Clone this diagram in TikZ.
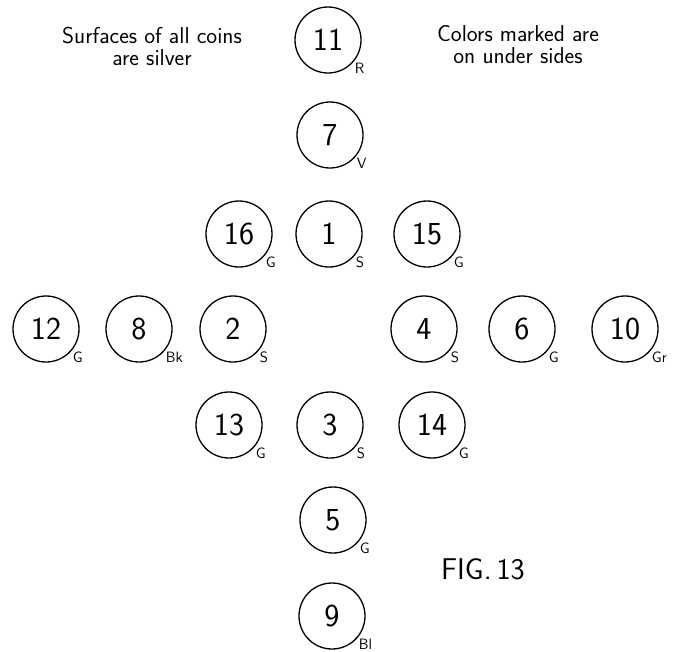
\documentclass[tikz,border=0pt]{standalone}
\usepackage{tikz}
\usetikzlibrary{positioning}
\tikzset{
  coin/.style={draw,circle,line width=1.3pt,minimum size=66pt,inner sep=0pt,font=\sffamily\fontsize{32}{32}\selectfont},
  tag/.style={font=\sffamily\fontsize{15}{15}\selectfont,inner sep=1pt},
  note/.style={font=\sffamily\fontsize{23}{22}\selectfont,align=center,inner sep=0pt}
}

\begin{document}
\begin{tikzpicture}[x=1pt,y=-1pt]
  \useasboundingbox (0,0) rectangle (679,651);
  % notes at the top
  \node[note] (surf) at (152,46) {Surfaces of all coins\\ are silver};
  \node[note] (under) at (518,45) {Colors marked are\\ on under sides};
  % vertical column
  \node[coin,label={[tag]-40:R}] (c11) at (328,40) {11};
  \node[coin,label={[tag]-40:V}] (c7) at (330,135) {7};
  \node[coin,label={[tag]-40:S}] (c1) at (329,234) {1};
  \node[coin,label={[tag]-40:S}] (c3) at (330,425) {3};
  \node[coin,label={[tag]-40:G}] (c5) at (333,520) {5};
  \node[coin,label={[tag]-40:Bl}] (c9) at (332,616) {9};
  % row through the middle
  \node[coin,label={[tag]-40:G}] (c12) at (46,329) {12};
  \node[coin,label={[tag]-40:Bk}] (c8) at (139,329) {8};
  \node[coin,label={[tag]-40:S}] (c2) at (233,329) {2};
  \node[coin,label={[tag]-40:S}] (c4) at (424,329) {4};
  \node[coin,label={[tag]-40:G}] (c6) at (522,329) {6};
  \node[coin,label={[tag]-40:Gr}] (c10) at (625,329) {10};
  % corners
  \node[coin,label={[tag]-40:G}] (c16) at (239,234) {16};
  \node[coin,label={[tag]-40:G}] (c15) at (427,234) {15};
  \node[coin,label={[tag]-40:G}] (c13) at (229,425) {13};
  \node[coin,label={[tag]-40:G}] (c14) at (432,425) {14};
  \node[font=\sffamily\fontsize{30}{30}\selectfont] (fig) at (483,569) {FIG.\,13};
\end{tikzpicture}
\end{document}
